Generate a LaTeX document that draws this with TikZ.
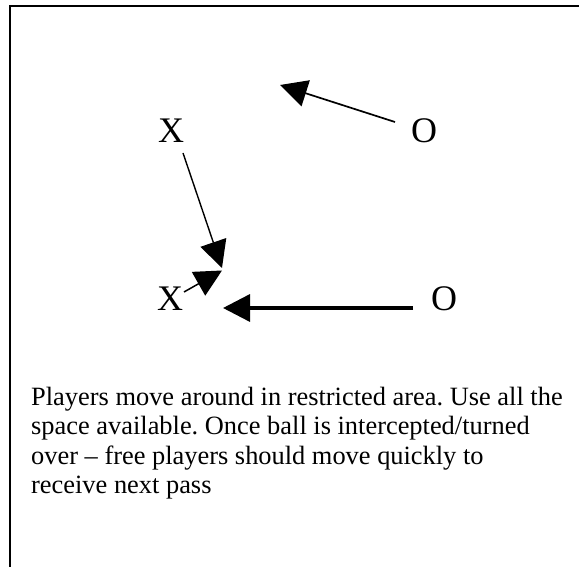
\documentclass[tikz,border=0pt]{standalone}
\usepackage{fontspec}
\setmainfont{Liberation Serif}
\usetikzlibrary{arrows.meta}
\frenchspacing
\begin{document}
\begin{tikzpicture}[x=1pt,y=-1pt,
  player/.style={inner sep=0pt, anchor=base, font=\fontsize{36}{36}\selectfont},
  run/.style={-{Triangle[length=27pt,width=27pt]}, line width=#1},
  run/.default=1.6pt]
\useasboundingbox (0,0) rectangle (579,567);
% outer frame, open at the right and bottom
\begin{scope}
\clip (0,0) rectangle (579,567);
\draw[line width=2pt] (10.3,600) -- (10.3,6) -- (600,6);
\end{scope}

% players
\node[player] (xT) at (171,143) {X};
\node[player] (oT) at (424,143) {O};
\node[player] (xB) at (170,310) {X};
\node[player] (oB) at (444,310) {O};

% movement paths
\coordinate (oTrun) at (395,122);
\coordinate (oTgo) at (280,85);
\coordinate (xTrun) at (183,153);
\coordinate (xTgo) at (222,268);
\coordinate (xBrun) at (184,292);
\coordinate (xBgo) at (222,270.5);
\coordinate (oBrun) at (413,308);
\coordinate (oBgo) at (223,308);

\draw[run=1.7pt] (oTrun) -- (oTgo);
\draw[run=1.4pt] (xTrun) -- (xTgo);
\draw[run=1.5pt] (xBrun) -- (xBgo);
\draw[run=3.4pt] (oBrun) -- (oBgo);

% notes (anchored on the baseline of the last line)
\node[anchor=base west, align=left, inner sep=0pt,
      font=\fontsize{26.4}{29.5}\selectfont] (note) at (31,493.5)
  {Players move around in restricted area. Use all the\\
   space available. Once ball is intercepted/turned\\
   over – free players should move quickly to\\
   receive next pass};
\end{tikzpicture}
\end{document}
